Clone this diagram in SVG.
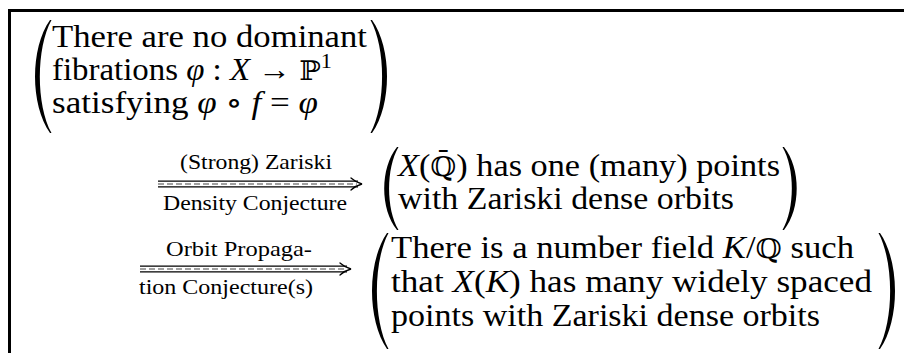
<svg xmlns="http://www.w3.org/2000/svg" width="904" height="353" viewBox="0 0 904 353">
<style>
.t{font-size:31px;fill:#000}
.l{font-size:21px;fill:#000}
.i{font-style:italic}
.bb{font-size:27px}
.p{fill:#000}
.ln{stroke:#000;stroke-width:1.2;fill:none}
.dash{stroke:#444;stroke-width:1.1;stroke-dasharray:6 3;fill:none}
.hd{stroke:#000;stroke-width:1.3;fill:none;stroke-linecap:round}
</style>
<path d="M9.5,353 V10.5 H904" fill="none" stroke="#000" stroke-width="3"/>
<g font-family="'Liberation Serif', 'DejaVu Serif', serif">
<g id="n1">
<path class="p" d="M50,20 C30,48 30,105 50,133 L51.5,133 C36,105 36,48 51.5,20 Z"/>
<path class="p" d="M372,20 C392,48 392,105 372,133 L370.5,133 C386,105 386,48 370.5,20 Z"/>
<text class="t" x="52" y="47" textLength="315" lengthAdjust="spacingAndGlyphs">There are no dominant</text>
<text class="t" x="52" y="80" textLength="280" lengthAdjust="spacingAndGlyphs">fibrations <tspan class="i">φ</tspan> : <tspan class="i">X</tspan> → <tspan class="bb" font-family="'DejaVu Serif', 'DejaVu Sans', serif">ℙ</tspan><tspan font-size="21" dy="-12">1</tspan></text>
<text class="t" x="52" y="113" textLength="266" lengthAdjust="spacingAndGlyphs">satisfying <tspan class="i">φ</tspan> ∘ <tspan class="i">f</tspan> = <tspan class="i">φ</tspan></text>
</g>
<g id="n2">
<path class="p" d="M397,147 C380,168 380,209 397,230 L398.5,230 C386,209 386,168 398.5,147 Z"/>
<path class="p" d="M784,147 C801,168 801,209 784,230 L782.5,230 C795,209 795,168 782.5,147 Z"/>
<text class="t" x="398" y="176" textLength="382" lengthAdjust="spacingAndGlyphs"><tspan class="i">X</tspan>(<tspan class="bb" font-family="'DejaVu Serif', 'DejaVu Sans', serif">ℚ̄</tspan>) has one (many) points</text>
<text class="t" x="398" y="209" textLength="336" lengthAdjust="spacingAndGlyphs">with Zariski dense orbits</text>
</g>
<g id="n3">
<path class="p" d="M387,233 C367,262 367,320 387,349 L388.5,349 C373,320 373,262 388.5,233 Z"/>
<path class="p" d="M880,233 C900,262 900,320 880,349 L878.5,349 C894,320 894,262 878.5,233 Z"/>
<text class="t" x="391" y="258" textLength="463" lengthAdjust="spacingAndGlyphs">There is a number field <tspan class="i">K</tspan>/<tspan class="bb" font-family="'DejaVu Serif', 'DejaVu Sans', serif">ℚ</tspan> such</text>
<text class="t" x="391" y="292" textLength="481" lengthAdjust="spacingAndGlyphs">that <tspan class="i">X</tspan>(<tspan class="i">K</tspan>) has many widely spaced</text>
<text class="t" x="391" y="326" textLength="429" lengthAdjust="spacingAndGlyphs">points with Zariski dense orbits</text>
</g>
<g id="connectors">
<g id="e1">
<path class="ln" d="M158,181.2 H358 M158,186.8 H358"/>
<path class="dash" d="M158,184 H357"/>
<path class="hd" d="M351,178 Q356,182.5 362,184 Q356,185.5 351,190"/>
<text class="l" x="180" y="169" textLength="152" lengthAdjust="spacingAndGlyphs">(Strong) Zariski</text>
<text class="l" x="163" y="210" textLength="184" lengthAdjust="spacingAndGlyphs">Density Conjecture</text>
</g>
<g id="e2">
<path class="ln" d="M140,266.2 H347 M140,271.8 H347"/>
<path class="dash" d="M140,269 H346"/>
<path class="hd" d="M340,263 Q345,267.5 351,269 Q345,270.5 340,275"/>
<text class="l" x="166" y="256" textLength="146" lengthAdjust="spacingAndGlyphs">Orbit Propaga-</text>
<text class="l" x="139" y="294" textLength="174" lengthAdjust="spacingAndGlyphs">tion Conjecture(s)</text>
</g>
</g>
</g>
</svg>
